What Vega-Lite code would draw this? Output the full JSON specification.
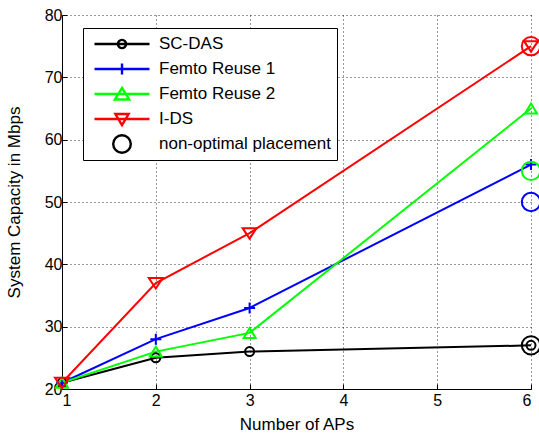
{
  "$schema": "https://vega.github.io/schema/vega-lite/v6.json",
  "width": 469,
  "height": 374,
  "autosize": {"type": "none"},
  "padding": {"left": 62, "top": 15, "right": 8, "bottom": 47},
  "background": "white",
  "config": {
    "view": {"stroke": null},
    "font": "Liberation Sans",
    "axis": {
      "domainColor": "#000",
      "domainWidth": 1,
      "tickColor": "#000",
      "tickSize": -5,
      "labelColor": "#000",
      "labelFont": "Liberation Sans",
      "labelFontSize": 16,
      "titleFont": "Liberation Sans",
      "titleFontSize": 17,
      "titleFontWeight": "normal",
      "titleColor": "#000",
      "grid": true,
      "gridColor": "#000",
      "gridDash": [1, 3],
      "gridOpacity": 0.8
    }
  },
  "data": {
    "values": [
      {"aps": 1, "capacity": 21, "series": "SC-DAS", "label": "SC-DAS"},
      {"aps": 2, "capacity": 25, "series": "SC-DAS", "label": "SC-DAS"},
      {"aps": 3, "capacity": 26, "series": "SC-DAS", "label": "SC-DAS"},
      {"aps": 6, "capacity": 27, "series": "SC-DAS", "label": "SC-DAS"},
      {"aps": 1, "capacity": 21, "series": "Femto Reuse 1", "label": "Femto Reuse 1"},
      {"aps": 2, "capacity": 28, "series": "Femto Reuse 1", "label": "Femto Reuse 1"},
      {"aps": 3, "capacity": 33, "series": "Femto Reuse 1", "label": "Femto Reuse 1"},
      {"aps": 6, "capacity": 56, "series": "Femto Reuse 1", "label": "Femto Reuse 1"},
      {"aps": 1, "capacity": 21, "series": "Femto Reuse 2", "label": "Femto Reuse 2"},
      {"aps": 2, "capacity": 26, "series": "Femto Reuse 2", "label": "Femto Reuse 2"},
      {"aps": 3, "capacity": 29, "series": "Femto Reuse 2", "label": "Femto Reuse 2"},
      {"aps": 6, "capacity": 65, "series": "Femto Reuse 2", "label": "Femto Reuse 2"},
      {"aps": 1, "capacity": 21, "series": "I-DS", "label": "I-DS"},
      {"aps": 2, "capacity": 37, "series": "I-DS", "label": "I-DS"},
      {"aps": 3, "capacity": 45, "series": "I-DS", "label": "I-DS"},
      {"aps": 6, "capacity": 75, "series": "I-DS", "label": "I-DS"},
      {"aps": 6, "capacity": 27, "series": "SC-DAS", "label": "non-optimal placement"},
      {"aps": 6, "capacity": 50, "series": "Femto Reuse 1", "label": "non-optimal placement"},
      {"aps": 6, "capacity": 55, "series": "Femto Reuse 2", "label": "non-optimal placement"},
      {"aps": 6, "capacity": 75, "series": "I-DS", "label": "non-optimal placement"}
    ]
  },
  "encoding": {
    "x": {
      "field": "aps",
      "type": "quantitative",
      "scale": {"domain": [1, 6], "nice": false, "zero": false},
      "axis": {"values": [1, 2, 3, 4, 5, 6], "format": "d", "labelPadding": 8, "title": "Number of APs", "titlePadding": 8}
    },
    "y": {
      "field": "capacity",
      "type": "quantitative",
      "scale": {"domain": [20, 80], "nice": false, "zero": false},
      "axis": {"values": [20, 30, 40, 50, 60, 70, 80], "format": "d", "labelPadding": 5, "title": "System Capacity in Mbps", "titlePadding": 21}
    },
    "color": {
      "field": "series",
      "type": "nominal",
      "scale": {"domain": ["SC-DAS", "Femto Reuse 1", "Femto Reuse 2", "I-DS"], "range": ["#000000", "#0000ff", "#00ff00", "#ff0000"]},
      "legend": null
    }
  },
  "layer": [
    {
      "transform": [{"filter": "datum.label !== 'non-optimal placement'"}],
      "mark": {"type": "line"},
      "encoding": {
        "strokeWidth": {
          "field": "series",
          "type": "ordinal",
          "scale": {"domain": ["I-DS", "Femto Reuse 2", "Femto Reuse 1", "SC-DAS"], "range": [2, 2, 2.8, 2.8]},
          "legend": null
        }
      }
    },
    {
      "mark": {"type": "point", "filled": false, "strokeWidth": 2, "size": 400},
      "encoding": {
        "shape": {
          "field": "label",
          "type": "nominal",
          "scale": {
            "domain": ["non-optimal placement", "I-DS", "Femto Reuse 2", "Femto Reuse 1", "SC-DAS"],
            "range": [
              "M-0.92,0A0.92,0.92 0 1,1 0.92,0A0.92,0.92 0 1,1 -0.92,0",
              "M0,0.55L0.7,-0.5L-0.7,-0.5Z",
              "M0,-0.5L0.6,0.5L-0.6,0.5Z",
              "M-0.55,0H0.55M0,-0.55V0.55",
              "M-0.45,0A0.45,0.45 0 1,1 0.45,0A0.45,0.45 0 1,1 -0.45,0"
            ]
          },
          "legend": null
        },
        "opacity": {
          "field": "label",
          "type": "ordinal",
          "scale": {
            "domain": ["SC-DAS", "Femto Reuse 1", "Femto Reuse 2", "I-DS", "non-optimal placement"],
            "range": [1, 1, 1, 1, 1]
          },
          "legend": {
            "title": null,
            "orient": "none",
            "legendX": 21,
            "legendY": 13,
            "strokeColor": "#000",
            "fillColor": "#fff",
            "padding": 6,
            "symbolSize": 3025,
            "symbolOffset": 4,
            "symbolStrokeWidth": 2.4,
            "symbolFillColor": "transparent",
            "symbolType": {"expr": "datum.value === 'SC-DAS' ? 'M-1,0H1M-0.15,0A0.15,0.15 0 1,1 0.15,0A0.15,0.15 0 1,1 -0.15,0' : datum.value === 'Femto Reuse 1' ? 'M-1,0H1M0,-0.2V0.2M-0.15,0H0.15' : datum.value === 'Femto Reuse 2' ? 'M-1,0H1M0,-0.22L0.26,0.2L-0.26,0.2Z' : datum.value === 'I-DS' ? 'M-1,0H1M0,0.22L0.24,-0.18L-0.24,-0.18Z' : 'M-0.32,0A0.32,0.32 0 1,1 0.32,0A0.32,0.32 0 1,1 -0.32,0'"},
            "symbolStrokeColor": {"expr": "datum.value === 'Femto Reuse 1' ? '#0000ff' : datum.value === 'Femto Reuse 2' ? '#00ff00' : datum.value === 'I-DS' ? '#ff0000' : '#000000'"},
            "labelFont": "Liberation Sans",
            "labelFontSize": 17,
            "labelColor": "#000",
            "labelOffset": 8,
            "labelLimit": 400,
            "clipHeight": 20,
            "rowPadding": 5
          }
        }
      }
    }
  ]
}
